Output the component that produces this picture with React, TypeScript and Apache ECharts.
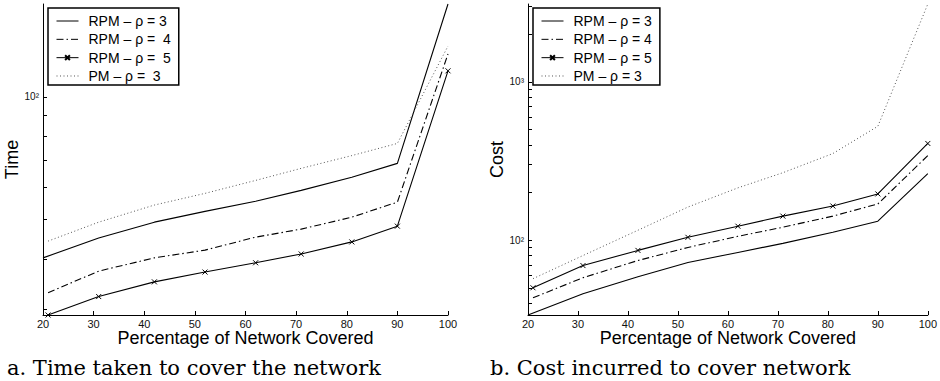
import React, { useEffect, useRef } from "react";
import * as echarts from "echarts";

// Percentage of the network covered (x values)
const coverageRho3 = [20, 31, 42, 52, 62, 71, 81, 90, 100];
const coverage = [21, 31, 42, 52, 62, 71, 81, 90, 100];

// Panel a: time taken
const timeRpm3 = [40.2, 45.0, 49.2, 52.3, 55.4, 58.9, 63.4, 68.6, 169];
const timeRpm4 = [33.0, 37.3, 40.2, 42.0, 45.2, 47.3, 50.6, 55.1, 127.4];
const timeRpm5 = [29.1, 32.3, 35.1, 37.1, 39.1, 41.1, 44.0, 48.1, 115.8];
const timePm3 = [44.2, 49.2, 54.2, 57.9, 62.3, 66.7, 71.7, 76.8, 133.2];

// Panel b: cost incurred
const costRpm3 = [33.8, 46.0, 59.0, 72.4, 83.9, 95.7, 112.4, 132.1, 263.3];
const costRpm4 = [43.4, 58.1, 74.6, 90.2, 106.0, 121.0, 142.2, 169.6, 342.8];
const costRpm5 = [50.2, 69.3, 86.4, 104.5, 122.8, 142.2, 164.7, 196.3, 408.6];
const costPm3 = [57.3, 80.2, 115.8, 162.2, 214.4, 267.2, 353.0, 524.5, 3100];

// Log-axis tick positions and labelled decades
const timeTicks = [30, 40, 50, 60, 70, 80, 90, 100];
const timeLabels = [100];
const costTicks = [40, 50, 60, 70, 80, 90, 100, 200, 300, 400, 500, 600, 700, 800, 900, 1000, 2000, 3000];
const costLabels = [100, 1000];

const namesA = ["RPM – ρ = 3", "RPM – ρ =\u00a0 4", "RPM – ρ =\u00a0 5", "PM – ρ =\u00a0 3"];
const namesB = ["RPM – ρ = 3", "RPM – ρ = 4", "RPM – ρ = 5", "PM – ρ = 3"];

const captionA = "a. Time taken to cover the network";
const captionB = "b. Cost incurred to cover network";

const SANS = "Liberation Sans, Arial, Helvetica, sans-serif";
const SERIF = "DejaVu Serif, serif";
const CROSS = "path://M0,0L10,10M10,0L0,10";

const pairs = (xs: number[], ys: number[]) => xs.map((x, i) => [x, ys[i]]);

const supers: Record<string, string> = { "1": "¹", "2": "²", "3": "³", "4": "⁴" };
const decadeLabel = (v: number) => {
  const e = Math.round(Math.log10(v));
  return "10" + (supers[String(e)] || "");
};

function lineSeries(name: string, gridIdx: number, xs: number[], ys: number[], kind: string) {
  const base: any = {
    type: "line",
    name,
    xAxisIndex: gridIdx,
    yAxisIndex: gridIdx,
    data: pairs(xs, ys),
    clip: false,
    symbol: "none",
    lineStyle: { color: "#000", width: 1.1, type: "solid" },
    itemStyle: { color: "#000" },
    emphasis: { disabled: true },
  };
  if (kind === "dashdot") base.lineStyle.type = [7, 3, 1.5, 3];
  if (kind === "dotted") {
    base.lineStyle = { color: "#555", width: 1, type: [1, 2.5] };
    base.itemStyle = { color: "#555" };
  }
  if (kind === "cross") {
    base.symbol = CROSS;
    base.symbolSize = 5;
    base.itemStyle = { color: "#000", borderColor: "#000", borderWidth: 1 };
  }
  return base;
}

function makeX(gridIndex: number) {
  return {
    gridIndex,
    type: "value",
    min: 20,
    max: 100,
    interval: 10,
    name: "Percentage of Network Covered",
    nameLocation: "middle",
    nameGap: 14,
    nameMoveOverlap: false,
    nameTextStyle: { fontSize: 18, lineHeight: 18, fontFamily: SANS, color: "#000" },
    axisLine: { lineStyle: { color: "#000", width: 1 } },
    axisTick: { inside: true, length: 4, lineStyle: { color: "#000" } },
    axisLabel: { fontSize: 11, lineHeight: 11, fontFamily: SANS, color: "#111", margin: 3 },
    splitLine: { show: false },
  };
}

function makeY(gridIndex: number, name: string, min: number, max: number, ticks: number[], labels: number[]) {
  return {
    gridIndex,
    type: "log",
    logBase: 10,
    min,
    max,
    name,
    nameLocation: "middle",
    nameRotate: 90,
    nameGap: 10,
    nameTextStyle: { fontSize: 18, fontFamily: SANS, color: "#000" },
    axisLine: { show: true, lineStyle: { color: "#000", width: 1 } },
    axisTick: { inside: true, length: 4, customValues: ticks, lineStyle: { color: "#000" } },
    axisLabel: {
      customValues: labels,
      fontSize: 10,
      fontFamily: SANS,
      color: "#111",
      margin: 4,
      formatter: (v: number) => decadeLabel(v),
    },
    splitLine: { show: false },
  };
}

// Only the ρ = 5 entry carries a marker in its legend sample
function legendItems(names: string[]) {
  return names.map((name, i) => (i === 2 ? { name } : { name, itemStyle: { opacity: 0 } }));
}

function makeLegend(left: number, names: string[]) {
  return {
    left,
    top: 8,
    orient: "vertical",
    selectedMode: false,
    data: legendItems(names),
    itemWidth: 22,
    itemHeight: 6,
    itemGap: 4.33,
    padding: [6, 8, 2, 8],
    borderColor: "#000",
    borderWidth: 1.5,
    backgroundColor: "#fff",
    lineStyle: { width: 1 },
    textStyle: { fontSize: 14, lineHeight: 14, fontFamily: SANS, color: "#000", padding: [0, 0, 0, 5] },
  };
}

export default function App() {
  const ref = useRef<HTMLDivElement>(null);

  useEffect(() => {
    if (!ref.current) return;
    const chart = echarts.init(ref.current, null, { renderer: "svg" });
    const captionStyle = { fontFamily: SERIF, fontSize: 21, fontWeight: "normal", color: "#000" };
    const option: any = {
      animation: false,
      backgroundColor: "#fff",
      title: [
        { text: captionA, left: 7, top: 357, padding: 0, textStyle: captionStyle },
        { text: captionB, left: 490, top: 357, padding: 0, textStyle: captionStyle },
      ],
      grid: [
        { left: 43, top: 4, width: 405, height: 311 },
        { left: 528, top: 4, width: 404, height: 311 },
      ],
      xAxis: [makeX(0), makeX(1)],
      yAxis: [
        makeY(0, "Time", 29.1, 169, timeTicks, timeLabels),
        makeY(1, "Cost", 33.8, 3100, costTicks, costLabels),
      ],
      legend: [makeLegend(48, namesA), makeLegend(533, namesB)],
      series: [
        lineSeries(namesA[0], 0, coverageRho3, timeRpm3, "solid"),
        lineSeries(namesA[1], 0, coverage, timeRpm4, "dashdot"),
        lineSeries(namesA[2], 0, coverage, timeRpm5, "cross"),
        lineSeries(namesA[3], 0, coverage, timePm3, "dotted"),
        lineSeries(namesB[0], 1, coverageRho3, costRpm3, "solid"),
        lineSeries(namesB[1], 1, coverage, costRpm4, "dashdot"),
        lineSeries(namesB[2], 1, coverage, costRpm5, "cross"),
        lineSeries(namesB[3], 1, coverage, costPm3, "dotted"),
      ],
    };
    chart.setOption(option);
    return () => chart.dispose();
  }, []);

  return (
    <div
      ref={ref}
      style={{ position: "fixed", left: 0, top: 0, width: 940, height: 381, background: "#fff" }}
    />
  );
}
